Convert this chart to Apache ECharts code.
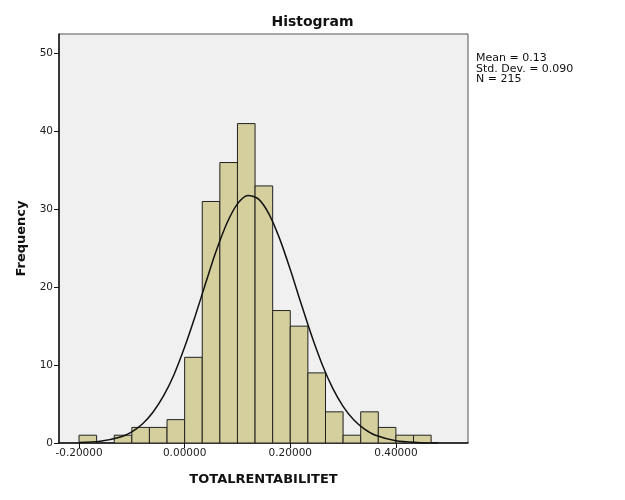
<!DOCTYPE html>
<html>
<head>
<meta charset="utf-8">
<script src="https://cdn.jsdelivr.net/npm/echarts@6/dist/echarts.min.js"></script>
<style>html,body{margin:0;padding:0;background:#fff}#c{width:625px;height:500px}</style>
</head>
<body>
<div id="c"></div>
<script>
// Histogram bins (lower edge, upper edge) and counts
const binStarts = [-0.20000,-0.16667,-0.13333,-0.10000,-0.06667,-0.03333,0.00000,0.03333,0.06667,0.10000,0.13333,0.16667,0.20000,0.23333,0.26667,0.30000,0.33333,0.36667,0.40000,0.43333];
const binEnds   = [-0.16667,-0.13333,-0.10000,-0.06667,-0.03333,0.00000,0.03333,0.06667,0.10000,0.13333,0.16667,0.20000,0.23333,0.26667,0.30000,0.33333,0.36667,0.40000,0.43333,0.46667];
const counts    = [1,0,1,2,2,3,11,31,36,41,33,17,15,9,4,1,4,2,1,1];

// Normal curve points
const curveX = [-0.20,-0.16,-0.12,-0.10,-0.08,-0.06,-0.04,-0.02,0.00,0.02,0.04,0.06,0.08,0.10,0.12,0.14,0.16,0.18,0.20,0.22,0.24,0.26,0.28,0.30,0.32,0.34,0.36,0.40,0.44,0.48];
const curveY = [0.05,0.22,0.81,1.44,2.44,3.95,6.04,8.80,12.31,16.30,20.57,24.70,28.21,30.69,31.77,31.30,29.35,26.20,22.27,18.00,13.86,10.15,7.08,4.70,2.97,1.80,1.02,0.29,0.07,0.01];

const xTicks = [-0.2,0,0.2,0.4];
const yTicks = [0,10,20,30,40,50];
const statsLines = ['Mean = 0.13','Std. Dev. = 0.090','N = 215'];

const chart = echarts.init(document.getElementById('c'), null, {renderer:'canvas'});
const FONT = 'DejaVu Sans';
const barData = counts.map((c,i)=>[binStarts[i], binEnds[i], c]);
const lineData = curveX.map((x,i)=>[x, curveY[i]]);

chart.setOption({
  animation:false,
  backgroundColor:'#ffffff',
  title:{text:'Histogram', left:'center', top:10,
    textStyle:{fontFamily:FONT, fontSize:14, fontWeight:'bold', color:'#111'}},
  grid:{left:59, right:157, top:34, bottom:57, show:true, backgroundColor:'#f0f0f0', borderColor:'#555', borderWidth:1},
  xAxis:{type:'value', min:-0.2379, max:0.5365,
    name:'TOTALRENTABILITET', nameLocation:'middle', nameGap:30,
    nameTextStyle:{fontFamily:FONT, fontSize:13, fontWeight:'bold', color:'#111'},
    axisLine:{show:true, onZero:false, lineStyle:{color:'#111', width:1.5}},
    axisTick:{show:true, length:5, customValues:xTicks, lineStyle:{color:'#111'}},
    axisLabel:{customValues:xTicks, fontFamily:FONT, fontSize:10.5, color:'#222', margin:5,
      formatter:v=>v.toFixed(5)},
    splitLine:{show:false}},
  yAxis:{type:'value', min:0, max:52.5,
    name:'Frequency', nameLocation:'middle', nameGap:31, nameRotate:90,
    nameTextStyle:{fontFamily:FONT, fontSize:13, fontWeight:'bold', color:'#111'},
    axisLine:{show:true, onZero:false, lineStyle:{color:'#111', width:1.5}},
    axisTick:{show:true, length:5, customValues:yTicks, lineStyle:{color:'#111'}},
    axisLabel:{customValues:yTicks, fontFamily:FONT, fontSize:10.5, color:'#222', margin:6},
    splitLine:{show:false}},
  series:[
    {type:'custom', data:barData, clip:true,
      renderItem:function(params, api){
        const c = api.value(2);
        if (c <= 0) return null;
        const p0 = api.coord([api.value(0), 0]);
        const p1 = api.coord([api.value(1), c]);
        return {type:'rect', shape:{x:p0[0], y:p1[1], width:p1[0]-p0[0], height:p0[1]-p1[1]},
          style:{fill:'#d4cf9c', stroke:'#222', lineWidth:1}};
      },
      encode:{x:[0,1], y:2}, z:2},
    {type:'line', data:lineData, smooth:0.3, showSymbol:false, symbol:'none',
      lineStyle:{color:'#111', width:1.5}, z:3}
  ],
  graphic:[
    {type:'text', left:476, top:53,
      style:{text:statsLines.join('\n'), fontFamily:FONT, fontSize:11, lineHeight:10.5, fill:'#111'}}
  ]
});
</script>
</body>
</html>
